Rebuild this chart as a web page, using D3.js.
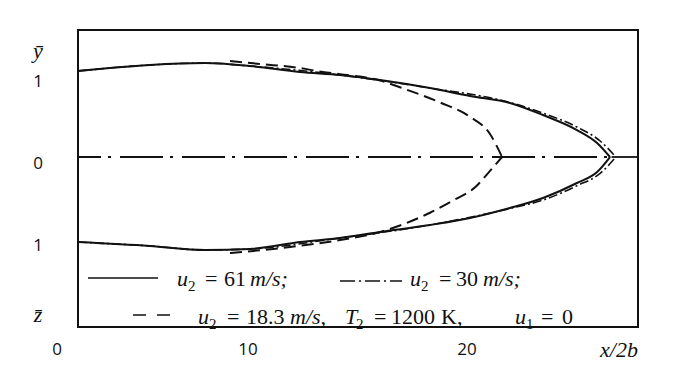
<html>
<head>
<script src="https://d3js.org/d3.v7.min.js"></script>
<style>
  body { margin: 0; background: #fff; }
  text { fill: #111; }
  .tick-label { font-family: "Open Sans", sans-serif; font-size: 17px; }
  .math { font-family: "Liberation Serif", serif; font-size: 22px; }
</style>
</head>
<body>
<svg id="chart" width="689" height="367"></svg>
<script>
// x/2b, y-bar values
const upper61 = [[1.1,1.049],[2.77,1.085],[4.87,1.122],[7.75,1.146],[10.09,1.110],[12.37,1.037],[14.2,1.0],[16.03,0.939],[18.31,0.841],[20.14,0.744],[21.96,0.659],[23.47,0.512],[25.02,0.329],[25.94,0.171],[26.53,0]];
const lower61 = [[1.1,-1.037],[4.87,-1.085],[7.75,-1.134],[10.09,-1.122],[12.37,-1.037],[14.2,-0.988],[16.03,-0.915],[18.31,-0.829],[20.14,-0.744],[21.96,-0.622],[23.47,-0.5],[25.02,-0.317],[25.94,-0.183],[26.53,0]];
const upper30 = [[1.1,1.049],[4.87,1.122],[7.75,1.146],[10.09,1.110],[14.2,1.0],[18.31,0.841],[21.96,0.665],[23.47,0.535],[25.02,0.365],[26.08,0.195],[26.8,0]];
const lower30 = [[1.1,-1.037],[4.87,-1.085],[7.75,-1.134],[10.09,-1.122],[14.2,-0.988],[18.31,-0.829],[21.96,-0.628],[23.47,-0.525],[25.02,-0.35],[26.08,-0.2],[26.8,0]];
const upper18 = [[9.06,1.171],[10.55,1.134],[12.24,1.09],[13.42,1.037],[14.2,1.01],[16.03,0.933],[16.94,0.85],[18.77,0.665],[20.14,0.49],[21.05,0.28],[21.6,0]];
const lower18 = [[9.06,-1.171],[11.92,-1.098],[14.2,-1.012],[16.03,-0.915],[16.94,-0.835],[18.31,-0.68],[19.36,-0.53],[20.37,-0.37],[21.05,-0.17],[21.6,0]];
const axisLine = [[1.1,0],[26.6,0]];
const axisTail = [[26.6,0],[27.8,0]];

const xTicks = [0, 10, 20];
const yTicks = [1, 0, -1];
const yTickLabels = ["1", "0", "1"];

const svg = d3.select("#chart");
const frame = { left: 78, right: 638, top: 30, bottom: 327 };

// the printed x axis is not evenly spaced, so a piecewise scale
const x = d3.scaleLinear().domain([0, 10, 20]).range([57, 248, 467]);
const y = d3.scaleLinear().domain([-1, 1]).range([239, 75]);

const line = d3.line().x(d => x(d[0])).y(d => y(d[1])).curve(d3.curveMonotoneX);
const straight = d3.line().x(d => x(d[0])).y(d => y(d[1]));

// center line
svg.append("path").attr("d", straight(axisLine))
  .attr("fill", "none").attr("stroke", "#111").attr("stroke-width", 2.2)
  .attr("stroke-dasharray", "43,7,3,9").attr("stroke-dashoffset", 20);
svg.append("path").attr("d", straight(axisTail))
  .attr("fill", "none").attr("stroke", "#111").attr("stroke-width", 1.8);

const series = [
  { data: [upper30, lower30], dash: "9,3,2,3", width: 1.6 },
  { data: [upper18, lower18], dash: "12,6", width: 2 },
  { data: [upper61, lower61], dash: null, width: 2 }
];
series.forEach(s => {
  svg.append("g").selectAll("path")
    .data(s.data)
    .join("path")
    .attr("d", d => line(d))
    .attr("fill", "none")
    .attr("stroke", "#111")
    .attr("stroke-width", s.width)
    .attr("stroke-dasharray", s.dash);
});

// frame
svg.append("rect")
  .attr("x", frame.left).attr("y", frame.top)
  .attr("width", frame.right - frame.left).attr("height", frame.bottom - frame.top)
  .attr("fill", "none").attr("stroke", "#111").attr("stroke-width", 2);

// tick labels
svg.selectAll("text.ylab")
  .data(yTicks)
  .join("text")
  .attr("class", "tick-label ylab")
  .attr("x", 38).attr("y", d => y(d) + 12)
  .attr("text-anchor", "middle")
  .text((d, i) => yTickLabels[i]);

svg.selectAll("text.xlab")
  .data(xTicks)
  .join("text")
  .attr("class", "tick-label xlab")
  .attr("x", d => x(d)).attr("y", 355)
  .attr("text-anchor", "middle")
  .text(d => d);

svg.append("text").attr("class", "math").attr("x", 38).attr("y", 58)
  .attr("text-anchor", "middle").attr("font-style", "italic").text("ȳ");
svg.append("text").attr("class", "math").attr("x", 38).attr("y", 322)
  .attr("text-anchor", "middle").attr("font-style", "italic").text("z\u0304");
svg.append("text").attr("class", "math").attr("x", 638).attr("y", 357)
  .attr("text-anchor", "end").attr("font-style", "italic").text("x/2b");

// legend: each piece is [text, style, x]
function mathLabel(g, baseline, parts) {
  const t = g.append("text").attr("class", "math").attr("y", baseline);
  parts.forEach(p => {
    const ts = t.append("tspan").text(p[0]).attr("x", p[2]).attr("y", baseline);
    if (p[1] === "i") ts.attr("font-style", "italic");
    if (p[1] === "sub") ts.attr("font-size", 15).attr("y", baseline + 5);
  });
  return t;
}

const legend = svg.append("g");
legend.append("line").attr("x1", 88).attr("x2", 158).attr("y1", 278).attr("y2", 278)
  .attr("stroke", "#111").attr("stroke-width", 1.5);
mathLabel(legend, 286, [["u", "i", 177], ["2", "sub", 188], ["=", "", 205], ["61", "", 224], ["m/s;", "i", 250]]);

legend.append("line").attr("x1", 340).attr("x2", 402).attr("y1", 281).attr("y2", 281)
  .attr("stroke", "#111").attr("stroke-width", 1.5).attr("stroke-dasharray", "15,4,2,4,0,0");
mathLabel(legend, 286, [["u", "i", 410], ["2", "sub", 421], ["=", "", 439], ["30", "", 456], ["m/s;", "i", 483]]);

legend.append("line").attr("x1", 133).attr("x2", 170).attr("y1", 315).attr("y2", 315)
  .attr("stroke", "#111").attr("stroke-width", 1.5).attr("stroke-dasharray", "13,11");
mathLabel(legend, 324, [["u", "i", 198], ["2", "sub", 209], ["=", "", 227], ["18.3", "", 246], ["m/s,", "i", 290],
  ["T", "i", 345], ["2", "sub", 356], ["=", "", 374], ["1200", "", 391], ["K,", "", 441],
  ["u", "i", 515], ["1", "sub", 526], ["=", "", 541], ["0", "", 562]]);
</script>
</body>
</html>
